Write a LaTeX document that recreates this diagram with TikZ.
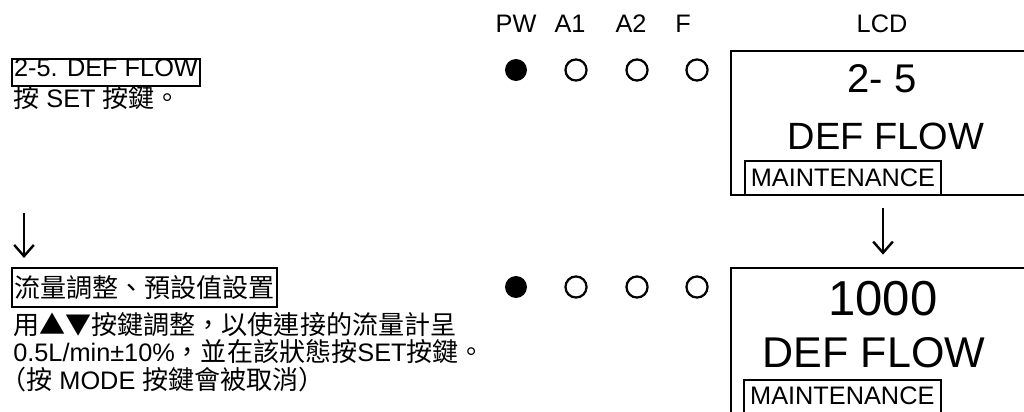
\documentclass[tikz,border=0pt]{standalone}
\usepackage{fontspec}
\setmainfont{Liberation Sans}
\newfontfamily\cjk[Scale=1.03]{Noto Sans CJK TC}
\usetikzlibrary{arrows.meta}

\begin{document}
\begin{tikzpicture}[x=0.025cm, y=-0.025cm,
  every node/.style={inner sep=0pt, font=\fontsize{18}{21}\selectfont},
  title/.style={draw, line width=1.6pt, inner xsep=1.4pt, inner ysep=0pt, anchor=base west},
  led/.style={circle, draw, line width=1.6pt, minimum size=15pt},
  ledon/.style={circle, fill=black, minimum size=15.6pt},
  lcd/.style={draw, line width=2pt, minimum width=216.2pt},
  mbox/.style={draw, line width=1.4pt, minimum width=139.4pt},
  arr/.style={line width=1.7pt, -{Straight Barb[length=8pt, width=14pt]}}]
  \useasboundingbox (0,0) rectangle (1024,412);
  \clip (0,0) rectangle (1024,412);
  % header
  \node[anchor=base] (pwlab) at (516,33) {PW};
  \node[anchor=base] (a1lab) at (570,33) {A1};
  \node[anchor=base] (a2lab) at (631,33) {A2};
  \node[anchor=base] (flab) at (683,33) {F};
  \node[anchor=base] (lcdlab) at (882,33) {LCD};
  % step 1
  \node[title, text height=12.8pt, text depth=6.4pt] (step1) at (11,77) {2-5. DEF FLOW};
  \node[anchor=base west] (step1txt) at (13,108) {{\cjk 按} SET {\cjk 按鍵。}};
  \node[ledon] (pw1) at (516,70) {}; \node[led] (a1a) at (576,70) {};
  \node[led] (a2a) at (637,70) {}; \node[led] (fa) at (697,70) {};
  \node[lcd, minimum height=102.4pt] (lcd1) at (883,123) {};
  \node[anchor=base, font=\fontsize{28.5}{30}\selectfont] (lcdcode1) at (882,93) {2- 5};
  \node[anchor=base, font=\fontsize{27}{30}\selectfont] (lcdname1) at (886,150) {DEF FLOW};
  \node[mbox, anchor=south west, minimum height=24.2pt] (mode1) at (744,196) {MAINTENANCE};
  % step 2
  \node[title, text height=21.3pt, text depth=6.4pt] (step2) at (11,298) {\cjk 流量調整、預設值設置};
  \node[anchor=base west] (desc1) at (13,334) {\cjk 用▲▼按鍵調整，以使連接的流量計呈};
  \node[anchor=base west] (desc2) at (13,361) {0.5L/min±10\%{\cjk ，並在該狀態按}SET{\cjk 按鍵。}};
  \node[anchor=base west] (desc3) at (0,389) {{\cjk （按} MODE {\cjk 按鍵會被取消）}};
  \node[ledon] (pw2) at (516,287) {}; \node[led] (a1b) at (576,287) {};
  \node[led] (a2b) at (637,287) {}; \node[led] (fb) at (697,287) {};
  \node[lcd, minimum height=108.1pt] (lcd2) at (883,344) {};
  \node[anchor=base, font=\fontsize{34.9}{38}\selectfont] (lcdcode2) at (883,315) {1000};
  \node[anchor=base, font=\fontsize{30.6}{34}\selectfont] (lcdname2) at (874,367) {DEF FLOW};
  \node[anchor=north west, minimum width=139.4pt, minimum height=22pt] (mode2) at (744,380) {MAINTENANCE};
  \draw[line width=1.4pt] ([yshift=-10pt]mode2.south west) |- (mode2.north east) -- ++(0,45);
  % arrows
  \coordinate (down1) at (24,213); \coordinate (down2) at (24,258);
  \draw[arr] (down1) -- (down2);
  \draw[arr, shorten <=8.5pt, shorten >=8.5pt] (lcd1.south) -- (lcd2.north);
\end{tikzpicture}
\end{document}
